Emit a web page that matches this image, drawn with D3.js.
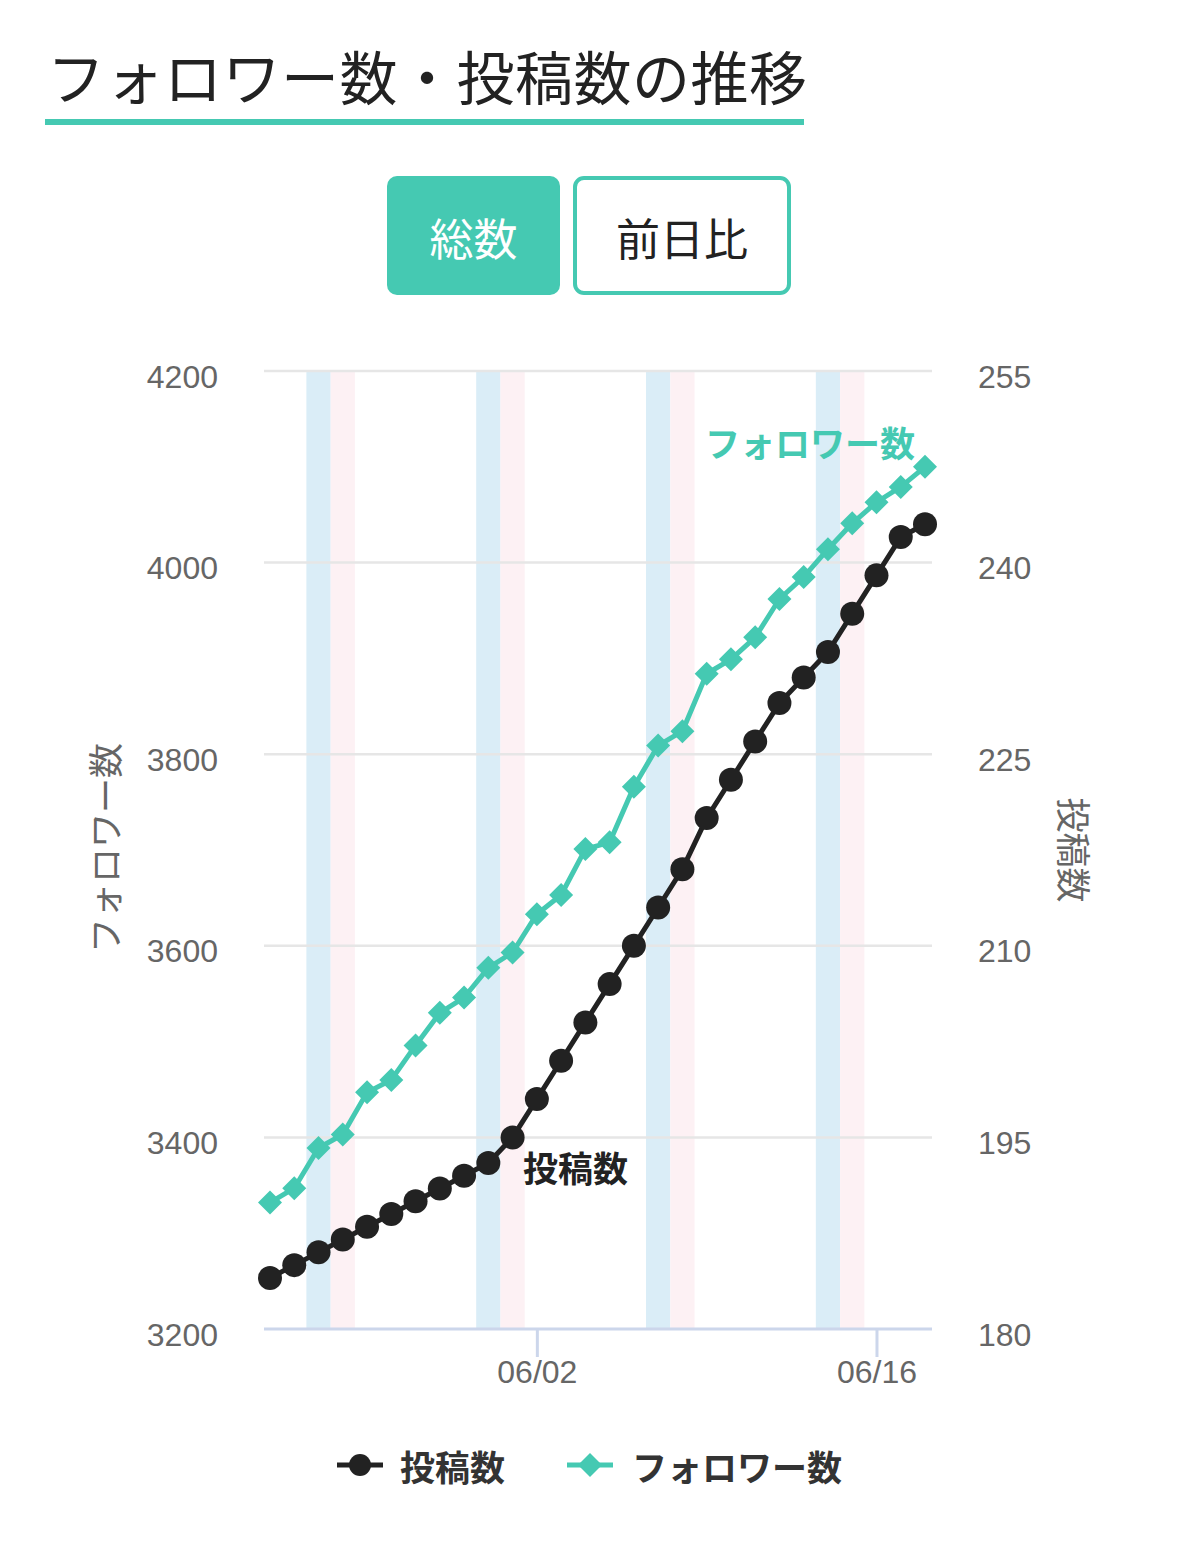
<!DOCTYPE html>
<html>
<head>
<meta charset="utf-8">
<script src="https://cdn.jsdelivr.net/npm/d3@7"></script>
<style>
  body { margin: 0; background: #fff; }
  text { font-family: "Liberation Sans", Arial, "Noto Sans CJK JP", sans-serif; }
  .jp { font-family: "Noto Sans CJK JP", sans-serif; }
</style>
</head>
<body>
<svg id="chart" width="1179" height="1555"></svg>
<script>
// ---------------- data ----------------
const dates = ["05/22","05/23","05/24","05/25","05/26","05/27","05/28","05/29","05/30","05/31",
  "06/01","06/02","06/03","06/04","06/05","06/06","06/07","06/08","06/09","06/10",
  "06/11","06/12","06/13","06/14","06/15","06/16","06/17","06/18"];
const followers = [3332, 3347, 3389, 3403, 3447, 3460, 3496, 3530, 3546, 3577,
  3593, 3633, 3653, 3701, 3708, 3766, 3809, 3824, 3884, 3899,
  3922, 3962, 3985, 4014, 4041, 4063, 4079, 4100];
const posts = [184, 185, 186, 187, 188, 189, 190, 191, 192, 193,
  195, 198, 201, 204, 207, 210, 213, 216, 220, 223,
  226, 229, 231, 233, 236, 239, 242, 243];
const saturdays = ["05/24", "05/31", "06/07", "06/14"];
const sundays = ["05/25", "06/01", "06/08", "06/15"];
const leftTicks = [3200, 3400, 3600, 3800, 4000, 4200];
const rightTicks = [180, 195, 210, 225, 240, 255];
const xTickLabels = ["06/02", "06/16"];

const teal = "#45c9b2";
const dark = "#222222";

const svg = d3.select("#chart");

//---------------- title & buttons ----------------
svg.append("text").attr("class", "jp")
  .attr("x", 47).attr("y", 100)
  .style("font-size", "58px").style("letter-spacing", "0.5px").style("fill", "#222")
  .text("フォロワー数・投稿数の推移");
svg.append("rect").attr("x", 45).attr("y", 119).attr("width", 759).attr("height", 6).attr("fill", teal);

svg.append("rect").attr("x", 387).attr("y", 176).attr("width", 173).attr("height", 119)
  .attr("rx", 10).attr("fill", teal);
svg.append("text").attr("class", "jp")
  .attr("x", 473.5).attr("y", 237).attr("text-anchor", "middle").attr("dominant-baseline", "central")
  .style("font-size", "44px").style("fill", "#fff").text("総数");
svg.append("rect").attr("x", 575).attr("y", 178).attr("width", 214).attr("height", 115)
  .attr("rx", 9).attr("fill", "#fff").attr("stroke", teal).attr("stroke-width", 4);
svg.append("text").attr("class", "jp")
  .attr("x", 682).attr("y", 237).attr("text-anchor", "middle").attr("dominant-baseline", "central")
  .style("font-size", "44px").style("fill", "#222").text("前日比");

//---------------- scales ----------------
const plot = { left: 264, right: 932, top: 371, bottom: 1329 };
const x = d3.scalePoint().domain(dates).range([270, 925]);
const step = x.step();
const yL = d3.scaleLinear().domain([3200, 4200]).range([plot.bottom, plot.top]);
const yR = d3.scaleLinear().domain([180, 255]).range([plot.bottom, plot.top]);

//---------------- weekend bands ----------------
svg.append("g").selectAll("rect").data(saturdays).join("rect")
  .attr("x", d => x(d) - step / 2).attr("width", step)
  .attr("y", plot.top).attr("height", plot.bottom - plot.top)
  .attr("fill", "#daedf7");
svg.append("g").selectAll("rect").data(sundays).join("rect")
  .attr("x", d => x(d) - step / 2).attr("width", step)
  .attr("y", plot.top).attr("height", plot.bottom - plot.top)
  .attr("fill", "#fdf1f4");

//---------------- grid ----------------
svg.append("g").selectAll("line").data(leftTicks.slice(1)).join("line")
  .attr("x1", plot.left).attr("x2", plot.right)
  .attr("y1", d => yL(d)).attr("y2", d => yL(d))
  .attr("stroke", "#e6e6e6").attr("stroke-width", 2.5);

//---------------- axes ----------------
const leftAxis = svg.append("g").attr("transform", "translate(218,0)")
  .call(d3.axisLeft(yL).tickValues(leftTicks).tickFormat(d3.format("d")).tickSize(0).tickPadding(0));
leftAxis.select(".domain").remove();
leftAxis.selectAll("text").style("font-size", "32px").style("fill", "#666")
  .style("font-family", "Liberation Sans, Arial, sans-serif").attr("dy", "0.5em");

const rightAxis = svg.append("g").attr("transform", "translate(978,0)")
  .call(d3.axisRight(yR).tickValues(rightTicks).tickFormat(d3.format("d")).tickSize(0).tickPadding(0));
rightAxis.select(".domain").remove();
rightAxis.selectAll("text").style("font-size", "32px").style("fill", "#666")
  .style("font-family", "Liberation Sans, Arial, sans-serif").attr("dy", "0.5em");

const xAxis = svg.append("g").attr("transform", "translate(0," + plot.bottom + ")")
  .call(d3.axisBottom(x).tickValues(xTickLabels).tickSize(28).tickPadding(12).tickSizeOuter(0));
xAxis.select(".domain").attr("d", "M" + plot.left + ",0H" + plot.right)
  .attr("stroke", "#ccd6eb").attr("stroke-width", 3);
xAxis.selectAll(".tick line").attr("stroke", "#ccd6eb").attr("stroke-width", 3);
xAxis.selectAll(".tick text").style("font-size", "32px").style("fill", "#666")
  .style("font-family", "Liberation Sans, Arial, sans-serif").attr("dy", "0.45em");

// axis titles
svg.append("text").attr("class", "jp")
  .attr("transform", "translate(103,848) rotate(-90)")
  .attr("text-anchor", "middle").attr("dominant-baseline", "central")
  .style("font-size", "35px").style("fill", "#666").text("フォロワー数");
svg.append("text").attr("class", "jp")
  .attr("transform", "translate(1075,850) rotate(90)")
  .attr("text-anchor", "middle").attr("dominant-baseline", "central")
  .style("font-size", "35px").style("fill", "#666").text("投稿数");

//---------------- lines ----------------
const followerLine = d3.line().x((d, i) => x(dates[i])).y(d => yL(d));
const postLine = d3.line().x((d, i) => x(dates[i])).y(d => yR(d));

svg.append("path").attr("d", followerLine(followers))
  .attr("fill", "none").attr("stroke", teal).attr("stroke-width", 5).attr("stroke-linejoin", "round");
svg.append("g").selectAll("path").data(followers).join("path")
  .attr("transform", (d, i) => "translate(" + x(dates[i]) + "," + yL(d) + ")")
  .attr("d", "M0,-12L12,0L0,12L-12,0Z").attr("fill", teal);

svg.append("path").attr("d", postLine(posts))
  .attr("fill", "none").attr("stroke", dark).attr("stroke-width", 5).attr("stroke-linejoin", "round");
svg.append("g").selectAll("circle").data(posts).join("circle")
  .attr("cx", (d, i) => x(dates[i])).attr("cy", d => yR(d))
  .attr("r", 12).attr("fill", dark);

//---------------- series labels ----------------
svg.append("text").attr("class", "jp")
  .attr("x", 705).attr("y", 441).attr("dominant-baseline", "central")
  .style("font-size", "35px").style("font-weight", "bold").style("fill", teal).text("フォロワー数");
svg.append("text").attr("class", "jp")
  .attr("x", 523).attr("y", 1166).attr("dominant-baseline", "central")
  .style("font-size", "35px").style("font-weight", "bold").style("fill", "#222").text("投稿数");

//---------------- legend ----------------
const legend = svg.append("g").attr("transform", "translate(0,1465)");
const lg1 = legend.append("g").attr("transform", "translate(337,0)");
lg1.append("line").attr("x1", 0).attr("x2", 46).attr("stroke", dark).attr("stroke-width", 5);
lg1.append("circle").attr("cx", 23).attr("r", 11).attr("fill", dark);
lg1.append("text").attr("class", "jp").attr("x", 63).attr("dominant-baseline", "central")
  .style("font-size", "35px").style("font-weight", "bold").style("fill", "#333").text("投稿数");
const lg2 = legend.append("g").attr("transform", "translate(567,0)");
lg2.append("line").attr("x1", 0).attr("x2", 46).attr("stroke", teal).attr("stroke-width", 5);
lg2.append("path").attr("transform", "translate(23,0)").attr("d", "M0,-12L12,0L0,12L-12,0Z").attr("fill", teal);
lg2.append("text").attr("class", "jp").attr("x", 65).attr("dominant-baseline", "central")
  .style("font-size", "35px").style("font-weight", "bold").style("fill", "#333").text("フォロワー数");
</script>
</body>
</html>
